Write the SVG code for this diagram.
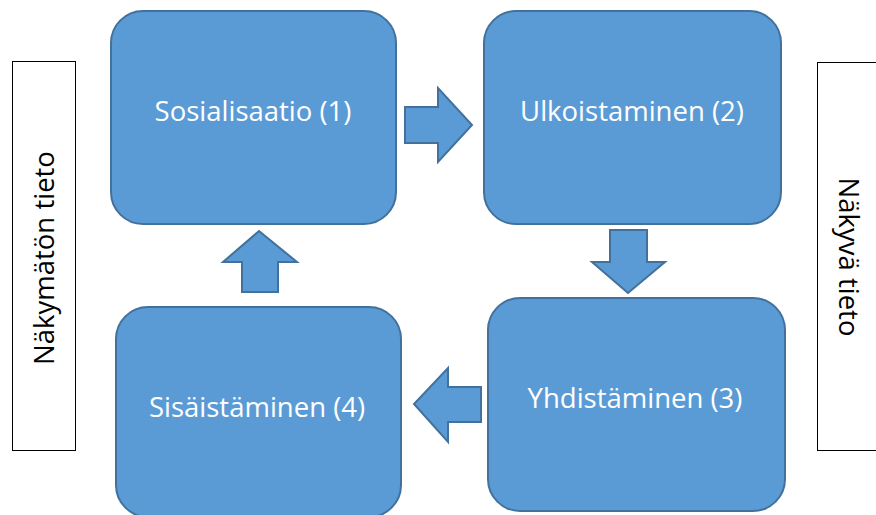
<svg xmlns="http://www.w3.org/2000/svg" width="876" height="515" viewBox="0 0 876 515">
<style>
.box{fill:#5B9BD5;stroke:#41719C;stroke-width:2}
.arr{fill:#5B9BD5;stroke:#41719C;stroke-width:2;stroke-linejoin:miter}
.lbl{font-family:"Open Sans","Liberation Sans",Arial,sans-serif;font-size:27.5px;fill:#FFFFFF;text-anchor:middle;dominant-baseline:central}
.side{fill:#FFFFFF;stroke:#000000;stroke-width:1}
.stxt{font-family:"Open Sans","Liberation Sans",Arial,sans-serif;font-size:27.5px;fill:#000000;text-anchor:middle;dominant-baseline:central}
</style>
<rect width="876" height="515" fill="#FFFFFF"/>
<g id="tacit">
<rect class="side" x="12.5" y="61.5" width="63" height="389"/>
<text class="stxt" transform="translate(43,258) rotate(-90)">Näkymätön tieto</text>
</g>
<g id="explicit">
<rect class="side" x="817.5" y="62.5" width="80" height="388"/>
<text class="stxt" transform="translate(849,257) rotate(90)">Näkyvä tieto</text>
</g>
<g id="n1">
<rect class="box" x="111" y="11" width="285" height="213" rx="32" ry="32"/>
<text class="lbl" x="253" y="110">Sosialisaatio (1)</text>
</g>
<g id="n2">
<rect class="box" x="484" y="11" width="297" height="213" rx="32" ry="32"/>
<text class="lbl" x="632" y="110">Ulkoistaminen (2)</text>
</g>
<g id="n3">
<rect class="box" x="488" y="298" width="297" height="213" rx="32" ry="32"/>
<text class="lbl" x="635" y="397">Yhdistäminen (3)</text>
</g>
<g id="n4">
<rect class="box" x="116" y="307" width="285" height="210" rx="32" ry="32"/>
<text class="lbl" x="257" y="406">Sisäistäminen (4)</text>
</g>
<g id="connectors">
<polygon class="arr" points="405,107 438,107 438,88 472,125 438,162 438,143 405,143"/>
<polygon class="arr" points="610,230 647,230 647,262 665,262 628,293 592,262 610,262"/>
<polygon class="arr" points="481,387 448,387 448,368 414,404 448,442 448,422 481,422"/>
<polygon class="arr" points="242,292 242,262 223,262 259,231 297,262 278,262 278,292"/>
</g>
</svg>
